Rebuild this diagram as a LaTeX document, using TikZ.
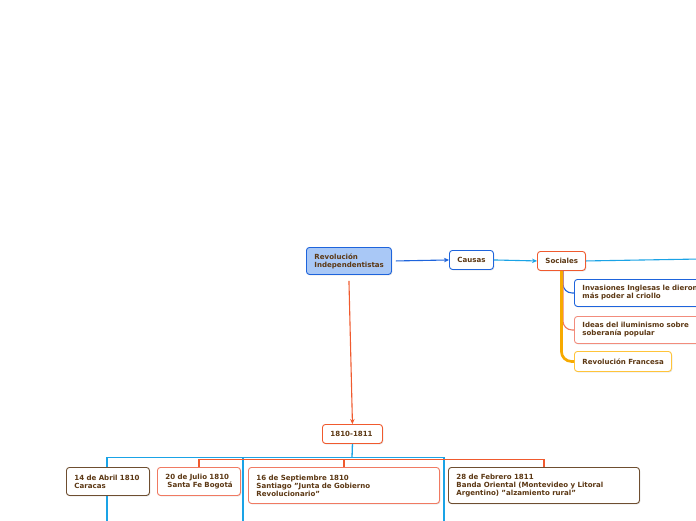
\documentclass[tikz,border=0pt]{standalone}
\usepackage{fontspec}
\setmainfont{DejaVu Sans}
\usetikzlibrary{shadows,arrows.meta}
\definecolor{txt}{HTML}{5C3814}
\definecolor{blueA}{HTML}{1E64DC}
\definecolor{blueL}{HTML}{1AA3E6}
\definecolor{revfill}{HTML}{A9C8F6}
\definecolor{orgA}{HTML}{F05A2E}
\definecolor{salm}{HTML}{F07A62}
\definecolor{salmL}{HTML}{F28C7C}
\definecolor{brownA}{HTML}{6E4E30}
\definecolor{yellA}{HTML}{FFC43A}
\definecolor{gold}{HTML}{F7AA00}
\begin{document}
\begin{tikzpicture}[x=1pt,y=-1pt,
  box/.style={draw, rounded corners=3pt, line width=0.9pt, fill=white, anchor=north west,
    align=left, inner xsep=8pt, inner ysep=0pt, text=txt,
    font=\fontsize{7.05}{8}\selectfont\bfseries,
    drop shadow={shadow xshift=0.8pt, shadow yshift=-0.9pt, opacity=0.25}},
  wh/.style n args={2}{minimum width=#1pt, minimum height=#2pt},
  conn/.style={line width=1.1pt},
  tip/.style={-{Stealth[length=5pt,width=4.5pt]}}]
\clip (0,0) rectangle (696,520);
\fill[white] (0,0) rectangle (696,520);

% nodes
\node[box, wh={85}{27}, text width=69pt, draw=blueA, fill=revfill] (rev) at (306,247) {Revolución\\\mbox{Independentistas}};
\node[box, wh={44}{19}, text width=28pt, draw=blueA] (causas) at (449,250) {Causas};
\node[box, wh={48}{19}, text width=32pt, draw=orgA] (soc) at (537,251) {Sociales};
\node[box, wh={60}{19}, text width=44pt, draw=orgA] (t1810) at (322,424) {1810-1811};

% coordinates for free ends and junctions
\coordinate (redge) at (700,259);
\coordinate (j) at (352,457.5);
\coordinate (jl) at (107,457.5);
\coordinate (jm) at (243,457.5);
\coordinate (jr) at (444,457.5);
\coordinate (el) at (107,525);
\coordinate (em) at (243,525);
\coordinate (er) at (444,525);
\coordinate (oy) at (0,459.5);

% top connectors
\draw[conn, blueA, tip] ([xshift=4pt]rev.east) -- (causas.west);
\draw[conn, blueL, tip] (causas.east) -- (soc.west);
\draw[conn, blueL] (soc.east) -- (redge);
\draw[conn, orgA, tip] ([yshift=-6pt]rev.south) -- (t1810.north);

% bottom tree lines (behind boxes)
\draw[conn, blueL, line width=1.3pt] (t1810.south) -- (j);
\draw[conn, blueL, line width=1.3pt] (el) -- (jl) -- (jr) -- (er);
\draw[conn, blueL, line width=1.3pt] (jm) -- (em);

% sociales children boxes
\node[box, wh={140}{27}, text width=124pt, draw=blueA] (inv) at (574,279) {\mbox{Invasiones Inglesas le dieron}\\más poder al criollo};
\node[box, wh={140}{27}, text width=124pt, draw=salmL] (ideas) at (574,316) {Ideas del iluminismo sobre\\soberanía popular};
\node[box, wh={97}{20}, text width=81pt, draw=yellA] (rf) at (574,351) {\mbox{Revolución Francesa}};

% sociales child connectors
\draw[conn, blueA, rounded corners=9pt] ([xshift=1.5pt]soc.south) |- (inv.west);
\draw[conn, salm, rounded corners=9pt] ([xshift=1.5pt]soc.south) |- (ideas.west);
\draw[gold, line width=2.7pt, rounded corners=10pt] (soc.south) |- (rf.west);

% bottom boxes
\node[box, wh={83}{28}, text width=67pt, draw=brownA] (b1) at (66,467) {\mbox{14 de Abril 1810}\\Caracas};
\node[box, wh={83}{28}, text width=67pt, draw=salm] (b2) at (157,467) {\mbox{20 de Julio 1810}\\\mbox{\hspace*{2pt}Santa Fe Bogotá}};
\node[box, wh={191}{36}, text width=175pt, draw=salm] (b3) at (248,467) {16 de Septiembre 1810\\Santiago "Junta de Gobierno\\Revolucionario"};
\node[box, wh={191}{36}, text width=175pt, draw=brownA] (b4) at (448,467) {28 de Febrero 1811\\\mbox{Banda Oriental (Montevideo y Litoral}\\Argentino) "alzamiento rural"};

% orange branch lines
\draw[conn, orgA] (b2.north) -- (b2.north |- oy) -- (b4.north |- oy) -- (b4.north);
\draw[conn, orgA] (b3.north) -- (b3.north |- oy);
\end{tikzpicture}
\end{document}
